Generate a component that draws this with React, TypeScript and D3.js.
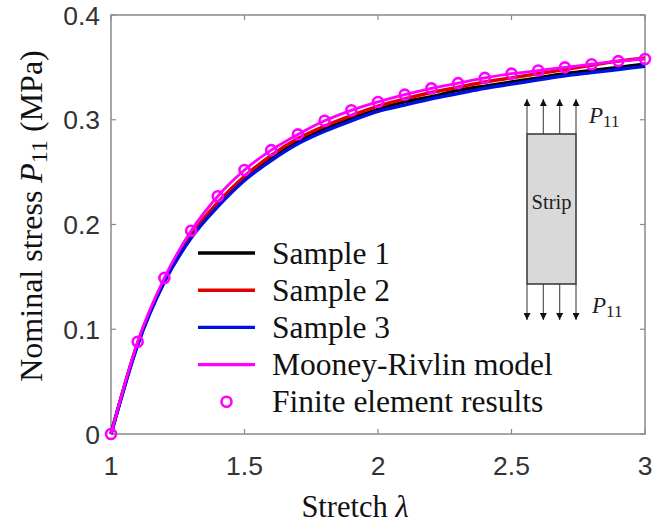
import * as d3 from "d3";

const WIDTH = 652;
const HEIGHT = 525;
const PLOT = { left: 111, right: 645, top: 15, bottom: 434 };

// stretch values (lambda)
const stretch = [1.0, 1.1, 1.2, 1.3, 1.4, 1.5, 1.6, 1.7, 1.8, 1.9, 2.0, 2.1, 2.2, 2.3, 2.4, 2.5, 2.6, 2.7, 2.8, 2.9, 3.0];
// nominal stress P11 (MPa)
const sample1 = [0, 0.086, 0.146, 0.188, 0.219, 0.244, 0.263, 0.279, 0.291, 0.301, 0.310, 0.317, 0.322, 0.328, 0.332, 0.336, 0.340, 0.344, 0.347, 0.350, 0.353];
const sample2 = [0, 0.087, 0.147, 0.190, 0.221, 0.246, 0.266, 0.282, 0.294, 0.304, 0.313, 0.320, 0.326, 0.331, 0.336, 0.340, 0.344, 0.348, 0.352, 0.356, 0.359];
const sample3 = [0, 0.085, 0.145, 0.187, 0.217, 0.242, 0.261, 0.277, 0.289, 0.299, 0.308, 0.314, 0.320, 0.325, 0.330, 0.334, 0.338, 0.342, 0.345, 0.348, 0.351];
const mooneyRivlin = [0, 0.088, 0.149, 0.194, 0.227, 0.252, 0.271, 0.286, 0.299, 0.309, 0.317, 0.324, 0.330, 0.335, 0.340, 0.344, 0.347, 0.350, 0.353, 0.356, 0.358];
const feResults = [0, 0.088, 0.149, 0.194, 0.227, 0.252, 0.271, 0.286, 0.299, 0.309, 0.317, 0.324, 0.330, 0.335, 0.340, 0.344, 0.347, 0.350, 0.353, 0.356, 0.358];

const xTicks = [1, 1.5, 2, 2.5, 3];
const xTickLabels = ["1", "1.5", "2", "2.5", "3"];
const yTicks = [0, 0.1, 0.2, 0.3, 0.4];
const yTickLabels = ["0", "0.1", "0.2", "0.3", "0.4"];

const seriesNames = ["Sample 1", "Sample 2", "Sample 3", "Mooney-Rivlin model", "Finite element results"];
const seriesColors = ["#000000", "#e00000", "#0010e0", "#ff00ff", "#ff00ff"];

const SERIF = "'Liberation Serif', 'Times New Roman', serif";
const SANS = "'Liberation Sans', Arial, sans-serif";
const AXIS_COLOR = "#8a8a8a";
const TICK_LEN = 5;

export default function App() {
  const x = d3.scaleLinear().domain([1, 3]).range([PLOT.left, PLOT.right]);
  const y = d3.scaleLinear().domain([0, 0.4]).range([PLOT.bottom, PLOT.top]);

  const line = d3
    .line<number>()
    .x((_, i) => x(stretch[i]))
    .y((d) => y(d))
    .curve(d3.curveMonotoneX);

  const curves = [sample1, sample2, sample3];

  // inset strip diagram
  const strip = { x0: 527, x1: 576, y0: 134, y1: 284, topTip: 99, botTip: 320 };
  const arrowXs = d3.range(4).map((i) => strip.x0 + (i * (strip.x1 - strip.x0)) / 3);

  // legend
  const legend = { lineX0: 198, lineX1: 255, textX: 272, y0: 253, dy: 37.2 };

  return (
    <svg
      width={WIDTH}
      height={HEIGHT}
      style={{ position: "absolute", left: 0, top: 0, background: "#fff" }}
    >
      {/* axes box */}
      <rect
        x={PLOT.left}
        y={PLOT.top}
        width={PLOT.right - PLOT.left}
        height={PLOT.bottom - PLOT.top}
        fill="#fff"
        stroke={AXIS_COLOR}
        strokeWidth={1.5}
      />
      {xTicks.map((t, i) => (
        <g key={"xt" + i}>
          <line x1={x(t)} x2={x(t)} y1={PLOT.bottom} y2={PLOT.bottom - TICK_LEN} stroke={AXIS_COLOR} strokeWidth={1.2} />
          <line x1={x(t)} x2={x(t)} y1={PLOT.top} y2={PLOT.top + TICK_LEN} stroke={AXIS_COLOR} strokeWidth={1.2} />
          <text x={x(t)} y={475} textAnchor="middle" fontFamily={SANS} fontSize={26.5} fill="#333">
            {xTickLabels[i]}
          </text>
        </g>
      ))}
      {yTicks.map((t, i) => (
        <g key={"yt" + i}>
          <line x1={PLOT.left} x2={PLOT.left + TICK_LEN} y1={y(t)} y2={y(t)} stroke={AXIS_COLOR} strokeWidth={1.2} />
          <line x1={PLOT.right} x2={PLOT.right - TICK_LEN} y1={y(t)} y2={y(t)} stroke={AXIS_COLOR} strokeWidth={1.2} />
          <text x={100} y={y(t) + 9.5} textAnchor="end" fontFamily={SANS} fontSize={26.5} fill="#333">
            {yTickLabels[i]}
          </text>
        </g>
      ))}

      {/* axis labels */}
      <text x={355} y={517} textAnchor="middle" fontFamily={SERIF} fontSize={30.5} fill="#111">
        Stretch <tspan fontStyle="italic">λ</tspan>
      </text>
      <text
        transform={`translate(42,216) rotate(-90)`}
        textAnchor="middle"
        fontFamily={SERIF}
        fontSize={32}
        fill="#111"
      >
        Nominal stress <tspan fontStyle="italic">P</tspan>
        <tspan fontSize={24} dy={5}>11</tspan>
        <tspan dy={-5}> (MPa)</tspan>
      </text>

      {/* curves */}
      {curves.map((c, i) => (
        <path key={"c" + i} d={line(c) || ""} fill="none" stroke={seriesColors[i]} strokeWidth={3.4} />
      ))}
      <path d={line(mooneyRivlin) || ""} fill="none" stroke={seriesColors[3]} strokeWidth={2.8} />
      {feResults.map((v, i) => (
        <circle key={"fe" + i} cx={x(stretch[i])} cy={y(v)} r={5} fill="none" stroke={seriesColors[4]} strokeWidth={2.6} />
      ))}

      {/* legend */}
      {seriesNames.map((name, i) => {
        const ly = legend.y0 + i * legend.dy;
        return (
          <g key={"lg" + i}>
            {i < 4 ? (
              <line x1={legend.lineX0} x2={legend.lineX1} y1={ly} y2={ly} stroke={seriesColors[i]} strokeWidth={3.4} />
            ) : (
              <circle cx={(legend.lineX0 + legend.lineX1) / 2} cy={ly} r={5} fill="none" stroke={seriesColors[i]} strokeWidth={2.6} />
            )}
            <text x={legend.textX} y={ly + 10.5} fontFamily={SERIF} fontSize={31.5} fill="#111">
              {name}
            </text>
          </g>
        );
      })}

      {/* inset: strip under tension */}
      <defs>
        <marker id="ah" viewBox="0 0 10 10" refX={10} refY={5} markerWidth={7} markerHeight={7} orient="auto" markerUnits="userSpaceOnUse">
          <path d="M0,0 L10,5 L0,10 Z" fill="#111" />
        </marker>
      </defs>
      {arrowXs.map((ax, i) => (
        <g key={"ar" + i}>
          <line x1={ax} x2={ax} y1={strip.y0} y2={strip.topTip} stroke="#555" strokeWidth={1.2} markerEnd="url(#ah)" />
          <line x1={ax} x2={ax} y1={strip.y1} y2={strip.botTip} stroke="#555" strokeWidth={1.2} markerEnd="url(#ah)" />
        </g>
      ))}
      <rect x={strip.x0} y={strip.y0} width={strip.x1 - strip.x0} height={strip.y1 - strip.y0} fill="#d9d9d9" stroke="#333" strokeWidth={1.5} />
      <text x={(strip.x0 + strip.x1) / 2} y={209} textAnchor="middle" fontFamily={SERIF} fontSize={20.5} fill="#222">
        Strip
      </text>
      <text x={589} y={123} fontFamily={SERIF} fontSize={23} fill="#222">
        <tspan fontStyle="italic">P</tspan>
        <tspan fontSize={17} dy={4}>11</tspan>
      </text>
      <text x={592} y={313} fontFamily={SERIF} fontSize={23} fill="#222">
        <tspan fontStyle="italic">P</tspan>
        <tspan fontSize={17} dy={4}>11</tspan>
      </text>
    </svg>
  );
}
